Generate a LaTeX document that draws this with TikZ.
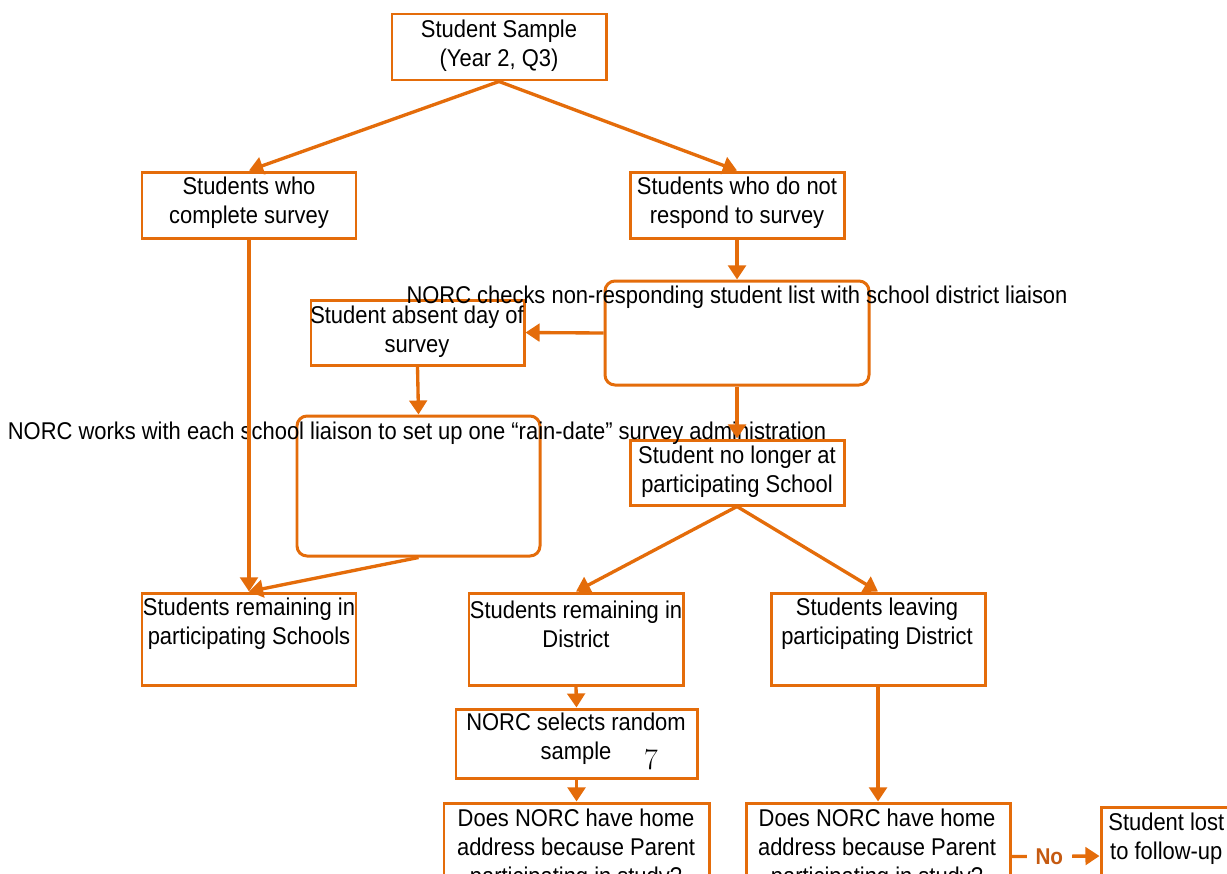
\documentclass[tikz,border=0pt]{standalone}
\usepackage{fontspec}
\setmainfont{Liberation Sans}[FakeStretch=0.905]
\usetikzlibrary{arrows.meta,fit}
\definecolor{org}{HTML}{E46C0A}
\definecolor{orgdark}{HTML}{C55A11}
\tikzset{
  bx/.style={draw=org, line width=1.7pt, inner sep=0pt},
  rbx/.style={bx, rounded corners=0.2cm},
  lbl/.style={align=center, inner sep=0pt, font=\fontsize{13.8}{16.6}\selectfont},
  conn/.style={draw=org, line width=1.9pt, -{Triangle[length=8pt,width=10pt]}},
}
\begin{document}
\begin{tikzpicture}[x=0.02cm, y=-0.02cm]
\useasboundingbox (0,0) rectangle (1227,873);
% boxes
\node[bx, fit={(392,14) (606,80)}] (samp) {};
\node[bx, fit={(142,172) (356,238)}] (comp) {};
\node[bx, fit={(630,172) (844,238)}] (nores) {};
\node[rbx, fit={(605,281) (869,385)}] (check) {};
\node[bx, fit={(311,300) (524,365)}] (absent) {};
\node[rbx, fit={(297,416) (540,556)}] (works) {};
\node[bx, fit={(630,440) (844,505)}] (nolong) {};
\node[bx, fit={(142,593) (356,685)}] (rsch) {};
\node[bx, fit={(469,593) (683,685)}] (rdist) {};
\node[bx, fit={(771,593) (985,685)}] (leave) {};
\node[bx, fit={(456,709) (697,778)}] (rand) {};
\node[bx, fit={(444,803) (709,910)}] (doesL) {};
\node[bx, fit={(746,803) (1010,910)}] (doesR) {};
\node[bx, fit={(1101,807) (1280,905)}] (lost) {};
% labels
\node[lbl] (tsamp) at (499,46) {Student Sample\\(Year 2, Q3)};
\node[lbl] (tcomp) at (249,203) {Students who\\complete survey};
\node[lbl] (tnores) at (737,203) {Students who do not\\respond to survey};
\node[lbl] (tcheck) at (737,297) {NORC checks non-responding student list with school district liaison};
\node[lbl] (tabsent) at (417,332) {Student absent day of\\survey};
\node[lbl] (tworks) at (417,433) {NORC works with each school liaison to set up one “rain-date” survey administration};
\node[lbl] (tnolong) at (737,472) {Student no longer at\\participating School};
\node[lbl] (trsch) at (249,624) {Students remaining in\\participating Schools};
\node[lbl] (trdist) at (576,624) {Students remaining in\\District};
\node[lbl] (tleave) at (877,624) {Students leaving\\participating District};
\node[lbl] (trand) at (576,739) {NORC selects random\\sample};
\node[lbl] (tdoesL) at (576,849) {Does NORC have home\\address because Parent\\participating in study?};
\node[lbl] (tdoesR) at (877,849) {Does NORC have home\\address because Parent\\participating in study?};
\node[lbl, anchor=west] (tlost) at (1108,839) {Student lost\\to follow-up};
\node[font=\fontsize{17}{19}\selectfont\fontspec{Latin Modern Roman}, inner sep=0pt] (pg) at (651,760) {7};
% connectors
\draw[conn] (samp.south) -- (comp.north);
\draw[conn] (samp.south) -- (nores.north);
\draw[conn] (comp.south) -- (rsch.north);
\draw[conn] (nores.south) -- (check.north);
\draw[conn] (check.west) -- (absent.east);
\draw[conn] (absent.south) -- (works.north);
\draw[conn] (works.south) -- (rsch.north);
\draw[conn] (check.south) -- (nolong.north);
\draw[conn] (nolong.south) -- (rdist.north);
\draw[conn] (nolong.south) -- (leave.north);
\draw[conn] (rdist.south) -- (rand.north);
\draw[conn] (rand.south) -- (doesL.north);
\draw[conn] (leave.south) -- (doesR.north);
\draw[conn] (doesR.east) -- node[pos=0.43, fill=white, inner sep=5pt, text=orgdark, font=\fontsize{13}{15}\selectfont\bfseries] (no) {No} (lost.west);
\end{tikzpicture}
\end{document}
